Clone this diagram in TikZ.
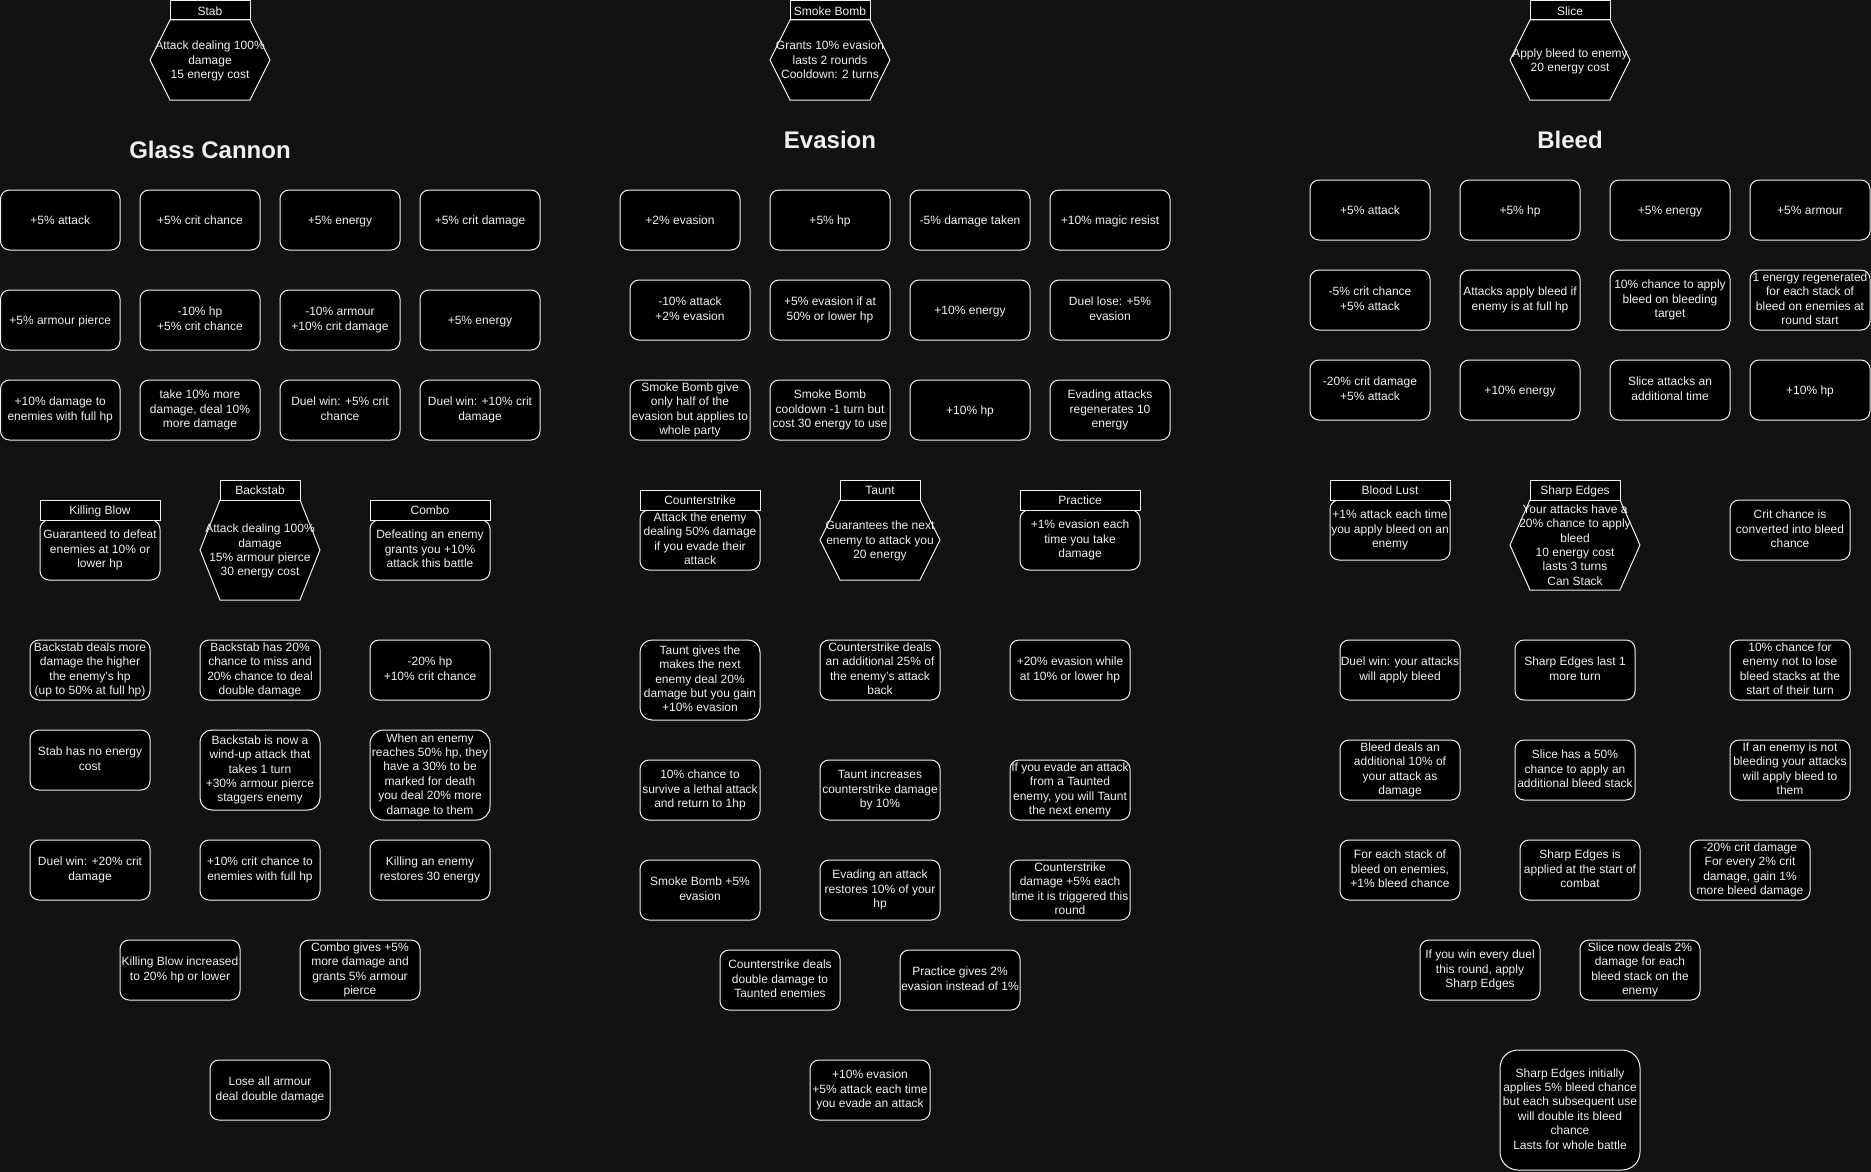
\documentclass[tikz,border=0pt]{standalone}
\usepackage{fontspec}
\setmainfont{Liberation Sans}
\definecolor{ink}{RGB}{240,240,240}
\definecolor{canvas}{RGB}{18,18,18}

% invisible strut giving each text block a full line box above and below
\newcommand{\lnstrut}{\rule[-2.4pt]{0pt}{14.4pt}}

% rounded perk box: name, x1, y1, x2, y2, text
\newcommand{\perk}[6]{%
  \pgfmathsetmacro{\perkw}{#4-#2}%
  \pgfmathsetmacro{\perkh}{#5-#3}%
  \pgfmathsetmacro{\perkr}{0.15*min(\perkw,\perkh)}%
  \node[perkbox, minimum width=\perkw pt, minimum height=\perkh pt,
        rounded corners=\perkr pt] (#1) at ({(#2+#4)/2},{(#3+#5)/2}) {#6};%
}
% square title tag above a skill: name, x1, y1, x2, y2, text
\newcommand{\skilltag}[6]{%
  \pgfmathsetmacro{\perkw}{#4-#2}%
  \pgfmathsetmacro{\perkh}{#5-#3}%
  \node[tagbox, minimum width=\perkw pt, minimum height=\perkh pt]
        (#1) at ({(#2+#4)/2},{(#3+#5)/2}) {#6};%
}
% hexagonal skill: name, left x, right x, top y, bottom y, text
\newcommand{\skillhex}[6]{%
  \pgfmathsetmacro{\hexmid}{(#4+#5)/2}%
  \pgfmathsetmacro{\hexil}{#2+20}%
  \pgfmathsetmacro{\hexir}{#3-20}%
  \draw[hexline] (#2,\hexmid) -- (\hexil,#4) -- (\hexir,#4) -- (#3,\hexmid)
        -- (\hexir,#5) -- (\hexil,#5) -- cycle;
  \node[hextext] (#1) at ({(#2+#3)/2},\hexmid) {#6};%
}

\begin{document}
\begin{tikzpicture}[x=1pt,y=-1pt,
  base/.style={font=\fontsize{12}{14.4}\selectfont, text=ink,
    execute at begin node=\lnstrut, execute at end node=\lnstrut},
  perkbox/.style={base, draw=ink, fill=black, line width=1pt, inner sep=0pt, align=center},
  tagbox/.style={base, draw=ink, fill=black, line width=1pt, inner sep=0pt},
  hexline/.style={draw=ink, fill=black, line width=1pt},
  hextext/.style={base, inner sep=0pt, align=center, yshift=-1.2pt},
  treetitle/.style={font=\fontsize{24}{28.8}\selectfont\bfseries, text=ink, inner sep=0pt}]

\fill[canvas] (0,0) rectangle (1871,1172);
\useasboundingbox (0,0) rectangle (1871,1172);

% ---------------- Glass Cannon ----------------
\skillhex{stab}{150}{270}{20}{100}{Attack dealing 100\%\\damage\\15 energy cost}
\skilltag{stabtag}{170}{0.5}{250}{20}{Stab}
\node[treetitle] (gctitle) at (210,150) {Glass Cannon};

\perk{gcA}{0.5}{190}{120}{250}{+5\% attack}
\perk{gcB}{140}{190}{260}{250}{+5\% crit chance}
\perk{gcC}{280}{190}{400}{250}{+5\% energy}
\perk{gcD}{420}{190}{540}{250}{+5\% crit damage}

\perk{gcE}{0.5}{290}{120}{350}{+5\% armour pierce}
\perk{gcF}{140}{290}{260}{350}{-10\% hp\\+5\% crit chance}
\perk{gcG}{280}{290}{400}{350}{-10\% armour\\+10\% crit damage}
\perk{gcH}{420}{290}{540}{350}{+5\% energy}

\perk{gcI}{0.5}{380}{120}{440}{+10\% damage to\\enemies with full hp}
\perk{gcJ}{140}{380}{260}{440}{take 10\% more\\damage, deal 10\%\\more damage}
\perk{gcK}{280}{380}{400}{440}{Duel win: +5\% crit\\chance}
\perk{gcL}{420}{380}{540}{440}{Duel win: +10\% crit\\damage}

\perk{killblow}{40}{520}{160}{580}{Guaranteed to defeat\\enemies at 10\% or\\lower hp}
\skilltag{killblowtag}{40}{500}{160}{520}{Killing Blow}
\skillhex{backstab}{200}{320}{500}{600}{Attack dealing 100\%\\damage\\15\% armour pierce\\30 energy cost}
\skilltag{backstabtag}{220}{480}{300}{500}{Backstab}
\perk{combo}{370}{520}{490}{580}{Defeating an enemy\\grants you +10\%\\attack this battle}
\skilltag{combotag}{370}{500}{490}{520}{Combo}

\perk{gcM}{30}{640}{150}{700}{Backstab deals more\\damage the higher\\the enemy's hp\\(up to 50\% at full hp)}
\perk{gcN}{200}{640}{320}{700}{Backstab has 20\%\\chance to miss and\\20\% chance to deal\\double damage}
\perk{gcO}{370}{640}{490}{700}{-20\% hp\\+10\% crit chance}

\perk{gcP}{30}{730}{150}{790}{Stab has no energy\\cost}
\perk{gcQ}{200}{730}{320}{810}{Backstab is now a\\wind-up attack that\\takes 1 turn\\+30\% armour pierce\\staggers enemy}
\perk{gcR}{370}{730}{490}{820}{When an enemy\\reaches 50\% hp, they\\have a 30\% to be\\marked for death\\you deal 20\% more\\damage to them}

\perk{gcS}{30}{840}{150}{900}{Duel win: +20\% crit\\damage}
\perk{gcT}{200}{840}{320}{900}{+10\% crit chance to\\enemies with full hp}
\perk{gcU}{370}{840}{490}{900}{Killing an enemy\\restores 30 energy}

\perk{gcV}{120}{940}{240}{1000}{Killing Blow increased\\to 20\% hp or lower}
\perk{gcW}{300}{940}{420}{1000}{Combo gives +5\%\\more damage and\\grants 5\% armour\\pierce}

\perk{gcX}{210}{1060}{330}{1120}{Lose all armour\\deal double damage}

% ---------------- Evasion ----------------
\skillhex{smoke}{770}{890}{20}{100}{Grants 10\% evasion\\lasts 2 rounds\\Cooldown: 2 turns}
\skilltag{smoketag}{790}{0.5}{870}{20}{Smoke Bomb}
\node[treetitle] (evtitle) at (830,140) {Evasion};

\perk{evA}{620}{190}{740}{250}{+2\% evasion}
\perk{evB}{770}{190}{890}{250}{+5\% hp}
\perk{evC}{910}{190}{1030}{250}{-5\% damage taken}
\perk{evD}{1050}{190}{1170}{250}{+10\% magic resist}

\perk{evE}{630}{280}{750}{340}{-10\% attack\\+2\% evasion}
\perk{evF}{770}{280}{890}{340}{+5\% evasion if at\\50\% or lower hp}
\perk{evG}{910}{280}{1030}{340}{+10\% energy}
\perk{evH}{1050}{280}{1170}{340}{Duel lose: +5\%\\evasion}

\perk{evI}{630}{380}{750}{440}{Smoke Bomb give\\only half of the\\evasion but applies to\\whole party}
\perk{evJ}{770}{380}{890}{440}{Smoke Bomb\\cooldown -1 turn but\\cost 30 energy to use}
\perk{evK}{910}{380}{1030}{440}{+10\% hp}
\perk{evL}{1050}{380}{1170}{440}{Evading attacks\\regenerates 10\\energy}

\perk{counter}{640}{510}{760}{570}{Attack the enemy\\dealing 50\% damage\\if you evade their\\attack}
\skilltag{countertag}{640}{490}{760}{510}{Counterstrike}
\skillhex{taunt}{820}{940}{500}{580}{Guarantees the next\\enemy to attack you\\20 energy}
\skilltag{taunttag}{840}{480}{920}{500}{Taunt}
\perk{practice}{1020}{510}{1140}{570}{+1\% evasion each\\time you take\\damage}
\skilltag{practicetag}{1020}{490}{1140}{510}{Practice}

\perk{evM}{640}{640}{760}{720}{Taunt gives the\\makes the next\\enemy deal 20\%\\damage but you gain\\+10\% evasion}
\perk{evN}{820}{640}{940}{700}{Counterstrike deals\\an additional 25\% of\\the enemy's attack\\back}
\perk{evO}{1010}{640}{1130}{700}{+20\% evasion while\\at 10\% or lower hp}

\perk{evP}{640}{760}{760}{820}{10\% chance to\\survive a lethal attack\\and return to 1hp}
\perk{evQ}{820}{760}{940}{820}{Taunt increases\\counterstrike damage\\by 10\%}
\perk{evR}{1010}{760}{1130}{820}{If you evade an attack\\from a Taunted\\enemy, you will Taunt\\the next enemy}

\perk{evS}{640}{860}{760}{920}{Smoke Bomb +5\%\\evasion}
\perk{evT}{820}{860}{940}{920}{Evading an attack\\restores 10\% of your\\hp}
\perk{evU}{1010}{860}{1130}{920}{Counterstrike\\damage +5\% each\\time it is triggered this\\round}

\perk{evV}{720}{950}{840}{1010}{Counterstrike deals\\double damage to\\Taunted enemies}
\perk{evW}{900}{950}{1020}{1010}{Practice gives 2\%\\evasion instead of 1\%}

\perk{evX}{810}{1060}{930}{1120}{+10\% evasion\\+5\% attack each time\\you evade an attack}

% ---------------- Bleed ----------------
\skillhex{slice}{1510}{1630}{20}{100}{Apply bleed to enemy\\20 energy cost}
\skilltag{slicetag}{1530}{0.5}{1610}{20}{Slice}
\node[treetitle] (bltitle) at (1570,140) {Bleed};

\perk{blA}{1310}{180}{1430}{240}{+5\% attack}
\perk{blB}{1460}{180}{1580}{240}{+5\% hp}
\perk{blC}{1610}{180}{1730}{240}{+5\% energy}
\perk{blD}{1750}{180}{1870}{240}{+5\% armour}

\perk{blE}{1310}{270}{1430}{330}{-5\% crit chance\\+5\% attack}
\perk{blF}{1460}{270}{1580}{330}{Attacks apply bleed if\\enemy is at full hp}
\perk{blG}{1610}{270}{1730}{330}{10\% chance to apply\\bleed on bleeding\\target}
\perk{blH}{1750}{270}{1870}{330}{1 energy regenerated\\for each stack of\\bleed on enemies at\\round start}

\perk{blI}{1310}{360}{1430}{420}{-20\% crit damage\\+5\% attack}
\perk{blJ}{1460}{360}{1580}{420}{+10\% energy}
\perk{blK}{1610}{360}{1730}{420}{Slice attacks an\\additional time}
\perk{blL}{1750}{360}{1870}{420}{+10\% hp}

\perk{bloodlust}{1330}{500}{1450}{560}{+1\% attack each time\\you apply bleed on an\\enemy}
\skilltag{bloodlusttag}{1330}{480}{1450}{500}{Blood Lust}
\skillhex{sharp}{1510}{1640}{500}{590}{Your attacks have a\\20\% chance to apply\\bleed\\10 energy cost\\lasts 3 turns\\Can Stack}
\skilltag{sharptag}{1530}{480}{1620}{500}{Sharp Edges}
\perk{critbleed}{1730}{500}{1850}{560}{Crit chance is\\converted into bleed\\chance}

\perk{blM}{1340}{640}{1460}{700}{Duel win: your attacks\\will apply bleed}
\perk{blN}{1515}{640}{1635}{700}{Sharp Edges last 1\\more turn}
\perk{blO}{1730}{640}{1850}{700}{10\% chance for\\enemy not to lose\\bleed stacks at the\\start of their turn}

\perk{blP}{1340}{740}{1460}{800}{Bleed deals an\\additional 10\% of\\your attack as\\damage}
\perk{blQ}{1515}{740}{1635}{800}{Slice has a 50\%\\chance to apply an\\additional bleed stack}
\perk{blR}{1730}{740}{1850}{800}{If an enemy is not\\bleeding your attacks\\will apply bleed to\\them}

\perk{blS}{1340}{840}{1460}{900}{For each stack of\\bleed on enemies,\\+1\% bleed chance}
\perk{blT}{1520}{840}{1640}{900}{Sharp Edges is\\applied at the start of\\combat}
\perk{blU}{1690}{840}{1810}{900}{-20\% crit damage\\For every 2\% crit\\damage, gain 1\%\\more bleed damage}

\perk{blV}{1420}{940}{1540}{1000}{If you win every duel\\this round, apply\\Sharp Edges}
\perk{blW}{1580}{940}{1700}{1000}{Slice now deals 2\%\\damage for each\\bleed stack on the\\enemy}

\perk{blX}{1500}{1050}{1640}{1170}{Sharp Edges initially\\applies 5\% bleed chance\\but each subsequent use\\will double its bleed\\chance\\Lasts for whole battle}

\end{tikzpicture}
\end{document}
